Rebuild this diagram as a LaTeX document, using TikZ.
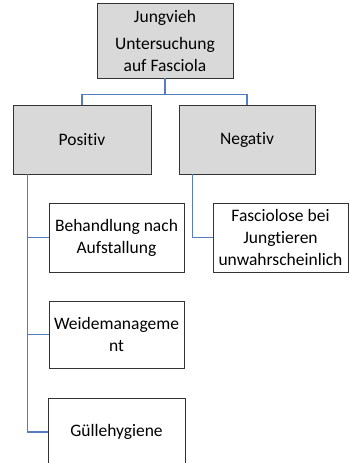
\documentclass[tikz,border=0pt]{standalone}
\usepackage{fontspec}
\setmainfont{Carlito}[RawFeature=-liga]
\definecolor{kastengrau}{RGB}{217,217,217}
\definecolor{linienblau}{RGB}{84,126,192}
\tikzset{
  kasten/.style={draw=black!80, line width=0.9pt, align=center, inner sep=0pt,
    minimum width=136pt, minimum height=69pt,
    font=\fontsize{17.5}{22}\selectfont},
  hauptkasten/.style={kasten, fill=kastengrau},
  unterkasten/.style={kasten, fill=white},
  verbinder/.style={draw=linienblau, line width=1.1pt}
}
\begin{document}
\begin{tikzpicture}[x=1pt,y=-1pt]
  \useasboundingbox (0,0) rectangle (350,463);

  %draw nodes
  \node[hauptkasten, minimum height=75pt] (jungvieh) at (165,40.5) {Jungvieh\\[5pt]Untersuchung\\auf Fasciola};
  \node[hauptkasten, minimum width=138pt] (positiv) at (82,139.5) {Positiv};
  \node[hauptkasten] (negativ) at (247,139.5) {Negativ};
  \node[unterkasten, minimum width=135pt] (behandlung) at (116.5,237.5) {Behandlung nach\\Aufstallung};
  \node[unterkasten, minimum width=135pt] (fasciolose) at (280.5,237.5) {Fasciolose bei\\Jungtieren\\unwahrscheinlich};
  \node[unterkasten, minimum width=135pt, minimum height=67pt] (weide) at (116.5,334.5) {Weidemanageme\\nt};
  \node[unterkasten, minimum width=137pt, minimum height=68pt] (guelle) at (116.5,432) {Güllehygiene};

  %draw connectors
  \draw[verbinder] (jungvieh.south) -- ++(0,16) -| (positiv.north);
  \draw[verbinder] (jungvieh.south) -- ++(0,16) -| (negativ.north);
  \draw[verbinder] ([xshift=15pt]positiv.south west) |- (behandlung.west);
  \draw[verbinder] ([xshift=15pt]positiv.south west) |- (weide.west);
  \draw[verbinder] ([xshift=15pt]positiv.south west) |- (guelle.west);
  \draw[verbinder] ([xshift=14pt]negativ.south west) |- (fasciolose.west);
\end{tikzpicture}
\end{document}
